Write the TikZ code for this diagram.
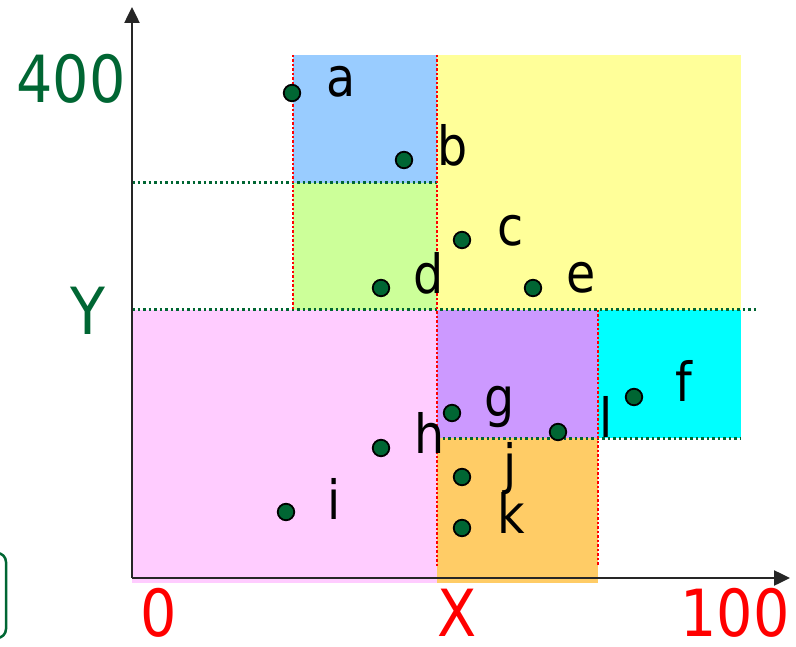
\documentclass[tikz,border=0pt]{standalone}
\usepackage{fontspec}
\setmainfont{DejaVu Sans}[FakeStretch=0.88]
\usetikzlibrary{arrows.meta}
\definecolor{cblue}{HTML}{99CCFF}
\definecolor{cyellow}{HTML}{FFFF99}
\definecolor{cgreen}{HTML}{CCFF99}
\definecolor{cpink}{HTML}{FFCCFF}
\definecolor{cpurple}{HTML}{CC99FF}
\definecolor{ccyan}{HTML}{00FFFF}
\definecolor{corange}{HTML}{FFCC66}
\definecolor{dgreen}{HTML}{006633}
\definecolor{cred}{HTML}{FF0000}
\tikzset{
  pt/.style={circle,draw=black,fill=dgreen,line width=1.8pt,minimum size=16.5pt,inner sep=0pt},
  lbl/.style={anchor=base,inner sep=0pt,font=\fontsize{54}{60}\selectfont},
  num/.style={anchor=base,inner sep=0pt,font=\fontsize{65}{70}\selectfont},
  reddot/.style={cred,line width=2.5pt,dash pattern=on 2.5pt off 2pt},
  grndot/.style={dgreen,line width=3pt,dash pattern=on 2.5pt off 3pt},
  axis/.style={line width=2.5pt,draw=black!85,-{Triangle[length=16pt,width=15pt]}}
}
\begin{document}
\begin{tikzpicture}[x=1pt,y=-1pt]
\useasboundingbox (0,0) rectangle (796,647);
% regions
\fill[cblue] (293,55) rectangle (437,183);
\fill[cyellow] (437,55) rectangle (741,310);
\fill[cgreen] (293,183) rectangle (437,310);
\fill[cpink] (132,310) rectangle (437,583);
\fill[cpurple] (437,310) rectangle (598,438);
\fill[ccyan] (598,310) rectangle (741,438);
\fill[corange] (437,438) rectangle (598,583);
% dotted lines
\draw[grndot] (132,183) -- (437,183);
\draw[grndot] (132,310) -- (757,310);
\draw[grndot] (437,438) -- (741,438);
\draw[reddot] (293,55) -- (293,310);
\draw[reddot] (437,55) -- (437,566);
\draw[reddot] (598,310) -- (598,566);
% axes
\coordinate (O) at (132,578);
\coordinate (xend) at (790,578);
\coordinate (yend) at (132,7);
\draw[axis] (O) -- (xend);
\draw[axis] (O) -- (yend);
% left rounded box
\draw[dgreen,line width=2.5pt,rounded corners=9pt] (-30,553) rectangle (6,638);
% points
\node[pt] (pa) at (292,93) {};
\node[pt] (pb) at (404,160) {};
\node[pt] (pc) at (462,240) {};
\node[pt] (pd) at (381,288) {};
\node[pt] (pe) at (533,288) {};
\node[pt] (pf) at (634,397) {};
\node[pt] (pg) at (452,413) {};
\node[pt] (pl) at (558,432) {};
\node[pt] (ph) at (381,448) {};
\node[pt] (pj) at (462,477) {};
\node[pt] (pk) at (462,528) {};
\node[pt] (pi) at (286,512) {};
% labels
\node[lbl] (la) at (341,97) {a};
\node[lbl] (lb) at (453,166) {b};
\node[lbl] (lc) at (511,246) {c};
\node[lbl] (ld) at (429,294) {d};
\node[lbl] (le) at (581,293) {e};
\node[lbl] (lf) at (684,402) {f};
\node[lbl] (lg) at (500,417) {g};
\node[lbl] (ll) at (606,437) {l};
\node[lbl] (lh) at (430,453) {h};
\node[lbl] (lj) at (510,483) {j};
\node[lbl] (lk) at (511,533) {k};
\node[lbl] (li) at (334,519) {i};
% axis numbers
\node[num,text=dgreen] (n400) at (71,103) {400};
\node[num,text=dgreen] (nY) at (88,335) {Y};
\node[num,text=cred] (n0) at (159,636) {0};
\node[num,text=cred] (nX) at (457,636) {X};
\node[num,text=cred] (n100) at (735,636) {100};
\end{tikzpicture}
\end{document}
